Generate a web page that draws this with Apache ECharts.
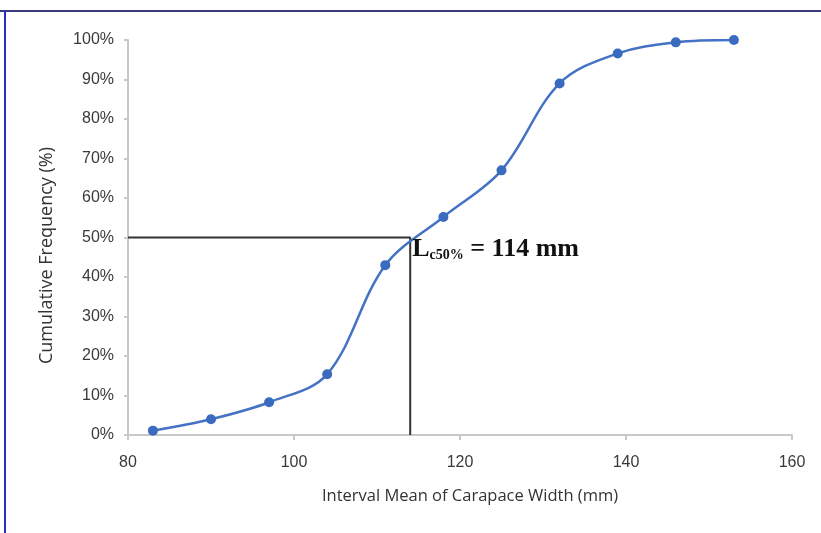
<!DOCTYPE html>
<html>
<head>
<meta charset="utf-8">
<script src="https://cdn.jsdelivr.net/npm/echarts@6/dist/echarts.min.js"></script>
<style>
  html, body { margin: 0; padding: 0; background: #fff; }
  #chart { width: 821px; height: 533px; }
</style>
</head>
<body>
<div id="chart"></div>
<script>
// interval means (mm) and cumulative frequency (%)
const widths = [83, 90, 97, 104, 111, 118, 125, 132, 139, 146, 153];
const cumFreq = [1.1, 4.0, 8.3, 15.4, 43, 55.2, 67, 89, 96.6, 99.4, 100];
// L50 reference
const l50 = 114;
const l50Line = [[80, 50], [l50, 50], [l50, 0]];

const myChart = echarts.init(document.getElementById('chart'));
myChart.setOption({
  animation: false,
  backgroundColor: '#fff',
  grid: { left: 128, right: 29, top: 40, bottom: 98 },
  graphic: [
    // page frame
    { type: 'rect', shape: { x: 0, y: 10, width: 821, height: 2 }, style: { fill: '#3c3c7c' } },
    { type: 'rect', shape: { x: 4, y: 10, width: 2, height: 523 }, style: { fill: '#2a2ac8' } }
  ],
  xAxis: {
    type: 'value',
    min: 80,
    max: 160,
    interval: 20,
    name: 'Interval Mean of Carapace Width (mm)',
    nameLocation: 'middle',
    nameGap: 53,
    nameTextStyle: { fontFamily: 'Open Sans', fontSize: 16.5, color: '#333', padding: [0, 0, 0, 20] },
    axisLine: { lineStyle: { color: '#c8c8c8', width: 2 } },
    axisTick: { show: true, length: 5, lineStyle: { color: '#c8c8c8', width: 2 } },
    axisLabel: { fontFamily: 'Liberation Sans', fontSize: 16, color: '#3a3a3a', margin: 20 },
    splitLine: { show: false }
  },
  yAxis: {
    type: 'value',
    min: 0,
    max: 100,
    interval: 10,
    name: 'Cumulative Frequency (%)',
    nameLocation: 'middle',
    nameGap: 72,
    nameTextStyle: { fontFamily: 'Open Sans', fontSize: 18, color: '#333', padding: [0, 36, 0, 0] },
    axisLine: { show: true, lineStyle: { color: '#c8c8c8', width: 2 } },
    axisTick: { show: true, length: 4, lineStyle: { color: '#c8c8c8', width: 2 } },
    axisLabel: { fontFamily: 'Liberation Sans', fontSize: 16, color: '#3a3a3a', margin: 14, formatter: '{value}%' },
    splitLine: { show: false }
  },
  series: [
    {
      type: 'line',
      data: l50Line,
      symbol: 'none',
      lineStyle: { color: '#333', width: 2 },
      z: 1,
      markPoint: {
        symbol: 'circle',
        symbolSize: 0,
        data: [{ coord: [l50, 50] }],
        label: {
          show: true,
          position: 'right',
          distance: 2,
          offset: [0, 12],
          formatter: '{l|L}{s|c50%}{v| = 114 mm}',
          rich: {
            l: { fontFamily: 'Liberation Serif', fontWeight: 'bold', fontSize: 26, color: '#111' },
            s: { fontFamily: 'Liberation Serif', fontWeight: 'bold', fontSize: 14, color: '#111', verticalAlign: 'bottom', padding: [10, 0, 0, 0] },
            v: { fontFamily: 'Liberation Serif', fontWeight: 'bold', fontSize: 26, color: '#111' }
          }
        }
      }
    },
    {
      type: 'line',
      data: widths.map((w, i) => [w, cumFreq[i]]),
      smooth: 0.35,
      symbol: 'circle',
      symbolSize: 10,
      itemStyle: { color: '#3a6bbf' },
      lineStyle: { color: '#4472c4', width: 2.5 },
      z: 3
    }
  ]
});
</script>
</body>
</html>
